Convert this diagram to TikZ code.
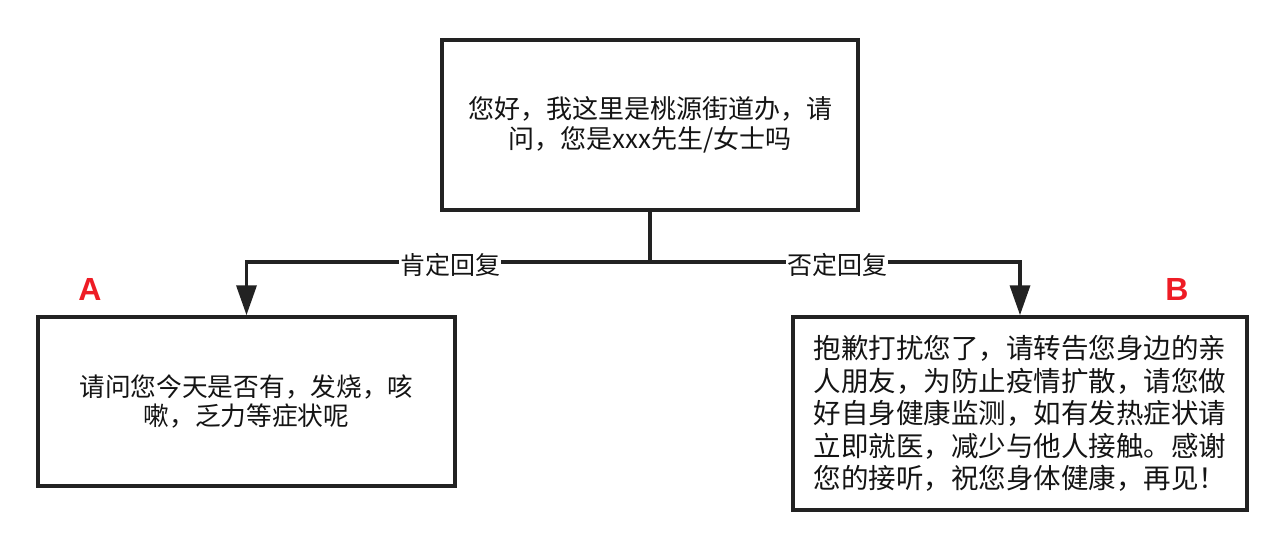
\documentclass[tikz,border=0pt]{standalone}
\usepackage{fontspec}
\setmainfont{Noto Sans CJK SC}
\newfontfamily\latinbold{Liberation Sans}
\usetikzlibrary{arrows.meta}
\definecolor{linec}{HTML}{222222}
\definecolor{txtc}{HTML}{141414}
\definecolor{markred}{HTML}{EE1C25}
\begin{document}
\begin{tikzpicture}[x=1pt,y=-1pt,
  box/.style={draw=linec, line width=3.5pt, fill=white, inner sep=0pt, align=center, text=txtc},
  conn/.style={draw=linec, line width=3.5pt},
  arr/.style={conn, -{Triangle[length=30pt,width=20pt]}},
  lbl/.style={fill=white, text=txtc, inner sep=1pt, font=\fontsize{25}{28}\selectfont},
  redletter/.style={text=markred, font=\latinbold\bfseries\fontsize{32}{34}\selectfont}]
\useasboundingbox (0,0) rectangle (1280,542);
\node[box, minimum width=416pt, minimum height=170pt, font=\fontsize{26}{30}\selectfont] (top) at (650,125)
  {您好，我这里是桃源街道办，请\\问，您是xxx先生/女士吗};
\node[box, minimum width=417pt, minimum height=169pt, font=\fontsize{25.7}{29}\selectfont] (left) at (246.5,401.5)
  {请问您今天是否有，发烧，咳\\嗽，乏力等症状呢};
\node[box, minimum width=454pt, minimum height=193pt, font=\fontsize{27.5}{32.5}\selectfont] (right) at (1020,413.5)
  {抱歉打扰您了，请转告您身边的亲\\人朋友，为防止疫情扩散，请您做\\好自身健康监测，如有发热症状请\\立即就医，减少与他人接触。感谢\\您的接听，祝您身体健康，再见！};
\coordinate (split) at (top.south |- 0,262);
\draw[conn] (top.south) -- (split);
\draw[arr] (split) -| (left.north);
\draw[arr] (split) -| (right.north);
\node[lbl] (yes) at (450,265) {肯定回复};
\node[lbl] (no) at (837,265) {否定回复};
\node[redletter] (A) at (90,289) {A};
\node[redletter] (B) at (1177,289) {B};
\end{tikzpicture}
\end{document}
